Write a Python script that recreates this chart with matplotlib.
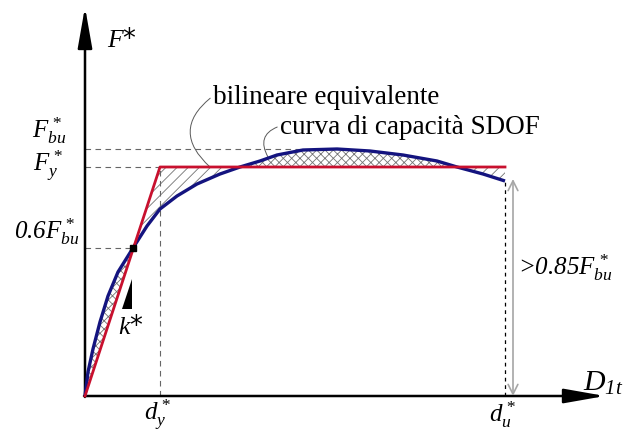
import numpy as np
import matplotlib
matplotlib.use('Agg')
import matplotlib.pyplot as plt

# fonts: everything in a Times-like serif, maths in italic
plt.rcParams['mathtext.fontset'] = 'custom'
plt.rcParams['mathtext.rm'] = 'Liberation Serif:italic'
plt.rcParams['mathtext.it'] = 'Liberation Serif:italic'
plt.rcParams['hatch.linewidth'] = 0.6

# key values (schematic units)
d_y = 75
d_u = 420
F_y = 229
F_bu = 247
F_06 = 148          # 0.6 F*bu
x_06 = 48           # where the curve reaches 0.6 F*bu

# capacity curve of the SDOF system
curve_x = [0, 3, 8, 15, 23, 33, 48, 62, 75, 92, 112, 135, 155, 175,
           192, 218, 252, 285, 318, 352, 372, 398, 420]
curve_y = [0, 24, 47, 74, 100, 124, 148, 170, 187, 200, 212, 222, 229, 235,
           241, 246, 247, 245, 241, 235, 229, 222, 215]

# equivalent bilinear
bil_x = [0, d_y, d_u]
bil_y = [0, F_y, F_y]

red = '#c8102e'
blue = '#14147f'
hatch_col = '0.45'

fig = plt.figure(figsize=(6.26, 4.35), dpi=100)
ax = fig.add_axes([0, 0, 1, 1])
ax.set_xlim(-85, 541)
ax.set_ylim(-38, 397)
ax.axis('off')

cx = np.array(curve_x, dtype=float)
cy = np.array(curve_y, dtype=float)
by = np.interp(cx, bil_x, bil_y)

# hatched areas between the two curves
ax.fill_between(cx, cy, by, where=cy >= by, interpolate=True, facecolor='none',
                edgecolor=hatch_col, hatch='xxxx', linewidth=0)
ax.fill_between(cx, cy, by, where=cy <= by, interpolate=True, facecolor='none',
                edgecolor=hatch_col, hatch='///', linewidth=0)

# guide lines
dash = dict(color='0.4', lw=0.8, dashes=(5, 4))
ax.plot([0, 222], [F_bu, F_bu], **dash)
ax.plot([0, d_y], [F_y, F_y], **dash)
ax.plot([0, x_06], [F_06, F_06], **dash)
ax.plot([d_y, d_y], [0, F_y], **dash)
ax.plot([d_u, d_u], [0, curve_y[-1]], color='k', lw=0.9, dashes=(3, 3))

# the curves
ax.plot(cx, cy, color=blue, lw=2.4, solid_capstyle='butt', zorder=4)
ax.plot(bil_x, bil_y, color=red, lw=2.0, zorder=5)
ax.plot([x_06], [F_06], 's', color='k', ms=4, zorder=6)

# axes with arrows
arr = dict(arrowstyle='-|>,head_length=1.25,head_width=0.22', color='k',
           lw=1.8, mutation_scale=20, shrinkA=0, shrinkB=0)
ax.annotate('', xy=(0, 389), xytext=(0, -1), arrowprops=arr)
ax.annotate('', xy=(520, 0), xytext=(-1, 0), arrowprops=arr)

# 0.85 F*bu dimension arrow
ax.annotate('', xy=(428, curve_y[-1] + 2), xytext=(428, 0),
            arrowprops=dict(arrowstyle='<->,head_length=0.5,head_width=0.25',
                            color='0.65', lw=1.2, mutation_scale=14,
                            shrinkA=0, shrinkB=0))

# stiffness triangle
ax.fill([37, 47, 47], [87, 87, 117], color='k', lw=0)

# labels
fs = 18
ax.text(22, 350, r'$F$*', fontsize=18.5, ha='left', va='baseline')
ax.text(-19, 266, r'$F^*_{bu}$', fontsize=fs, ha='right', va='center')
ax.text(-22, 231, r'$F^*_{y}$', fontsize=fs, ha='right', va='center')
ax.text(-6, 165, r'$0.6F^*_{bu}$', fontsize=fs, ha='right', va='center')
ax.text(46, 70, r'$k$*', fontsize=18.5, ha='center', va='center')
ax.text(73, -18, r'$d^*_{y}$', fontsize=fs, ha='center', va='center')
ax.text(418, -18, r'$d^*_{u}$', fontsize=fs, ha='center', va='center')
ax.text(518, 14, r'$D_{1t}$', fontsize=21.5, ha='center', va='center')
ax.text(433, 129, r'>$0.85F^*_{bu}$', fontsize=fs, ha='left', va='center',
        family='Liberation Serif', style='italic')

# annotations with curved leaders
lead = dict(arrowstyle='-', color='0.35', lw=0.7, shrinkA=0, shrinkB=0,
            relpos=(0, 0.5))
ax.annotate('bilineare equivalente', xy=(125, F_y), xytext=(128, 300),
            fontsize=19.5, family='Liberation Serif', ha='left', va='center',
            arrowprops=dict(connectionstyle='arc3,rad=0.6', **lead))
ax.annotate('curva di capacità SDOF', xy=(183, 239), xytext=(195, 270),
            fontsize=19.5, family='Liberation Serif', ha='left', va='center',
            arrowprops=dict(connectionstyle='arc3,rad=0.6', **lead))

fig.savefig('out.png', dpi=100)
